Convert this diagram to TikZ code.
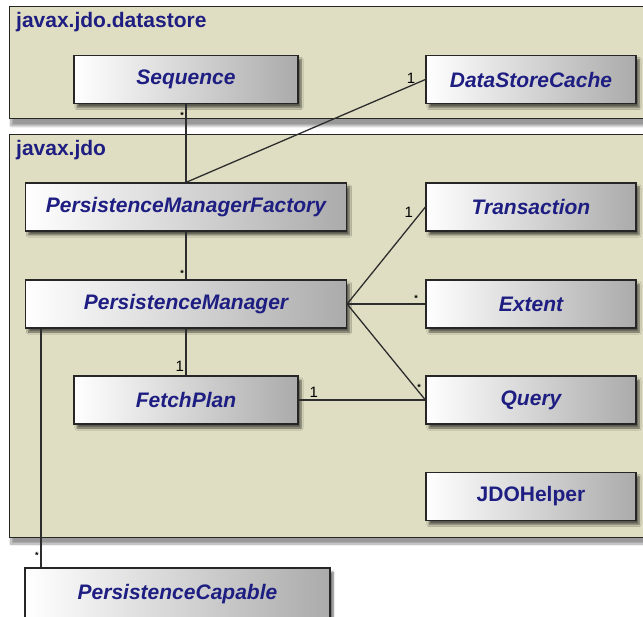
\documentclass[tikz,border=0pt]{standalone}
\usepackage{fontspec}
\setmainfont{Liberation Sans}
\usetikzlibrary{shadows.blur}
\definecolor{pkgfill}{RGB}{224,222,194}
\definecolor{clsname}{RGB}{30,30,130}
\definecolor{wire}{RGB}{45,45,45}

\begin{document}
\begin{tikzpicture}[x=1pt,y=-1pt]%
            \useasboundingbox (0,0) rectangle (643,617); %%
            \clip (0,0) rectangle (643,617); %%
            \tikzstyle{pkg}=[draw=black!85,line width=1pt,fill=pkgfill,blur shadow={shadow xshift=2pt,shadow yshift=-7pt,shadow blur steps=10,shadow opacity=40}] %%
            \tikzstyle{pkglabel}=[anchor=north west,inner sep=1pt,text=clsname,font=\fontsize{21}{24}\selectfont\bfseries] %%
            \tikzstyle{one}=[inner sep=1.5pt,font=\fontsize{15}{16}\selectfont] %%
            \tikzstyle{many}=[inner sep=1.5pt,font=\fontsize{9}{10}\selectfont\bfseries] %%
            \draw[pkg] (9,7) rectangle (680,119); %%
            \node[pkglabel] (dslabel) at (15,11) {javax.jdo.datastore}; %%
            \draw[pkg] (9,135) rectangle (680,537); %%
            \node[pkglabel] (jdolabel) at (15,139) {javax.jdo}; %%
            \begin{scope}[text=clsname,font=\fontsize{21}{24}\selectfont\bfseries\itshape]%
            \tikzstyle{every node}=[draw=black!85,line width=1.2pt,minimum height=48pt,inner sep=0pt,left color=white,right color=black!33,blur shadow={shadow xshift=3pt,shadow yshift=-4pt,shadow blur steps=6,shadow opacity=60}] %%
            \tikzstyle{wide}=[minimum width=321pt] %%
            \tikzstyle{mid}=[minimum width=224pt] %%
            \tikzstyle{side}=[minimum width=210pt] %%
            \node[mid] (seq) at (186,79.5)  {Sequence}; %%
            \node[side] (dsc) at (531,79.5)  {DataStoreCache}; %%
            \node[wide] (pmf) at (186,207)  {PersistenceManagerFactory}; %%
            \node[side] (tx) at (531,207)  {Transaction}; %%
            \node[wide] (pm) at (186,304)  {PersistenceManager}; %%
            \node[side] (ext) at (531,304)  {Extent}; %%
            \node[mid] (fp) at (186,400)  {FetchPlan}; %%
            \node[side] (qry) at (531,400)  {Query}; %%
            \node[side,font=\fontsize{21}{24}\selectfont\bfseries] (helper) at (531,496.5)  {JDOHelper}; %%
            \node[minimum width=305pt,minimum height=52pt] (pc) at (177.5,594)  {\raisebox{2pt}{PersistenceCapable}}; %%
            \end{scope}
            \coordinate (pmfoot) at ([xshift=16pt]pm.south west); %%
            \begin{scope}[draw=wire,line width=1.3pt]
            \draw (seq.south)--(pmf.north) node[pos=0.14,left,many]{*}; %%
            \draw (pmf.north)--(dsc.west) node[pos=0.94,above,one]{1}; %%
            \draw (pmf.south)--(pm.north) node[pos=0.87,left,many]{*}; %%
            \draw (pm.east)--(tx.west) node[pos=0.87,above left,one]{1}; %%
            \draw (pm.east)--(ext.west) node[pos=0.88,above,many]{*}; %%
            \draw (pm.east)--(qry.west) node[pos=0.92,above,many]{*}; %%
            \draw (pm.south)--(fp.north) node[pos=0.8,left,one]{1}; %%
            \draw (fp.east)--(qry.west) node[pos=0.12,above,one]{1}; %%
            \draw (pmfoot)--(pmfoot |- pc.north) node[pos=0.95,left,many]{*}; %%
            \end{scope}
        \end{tikzpicture}
\end{document}
